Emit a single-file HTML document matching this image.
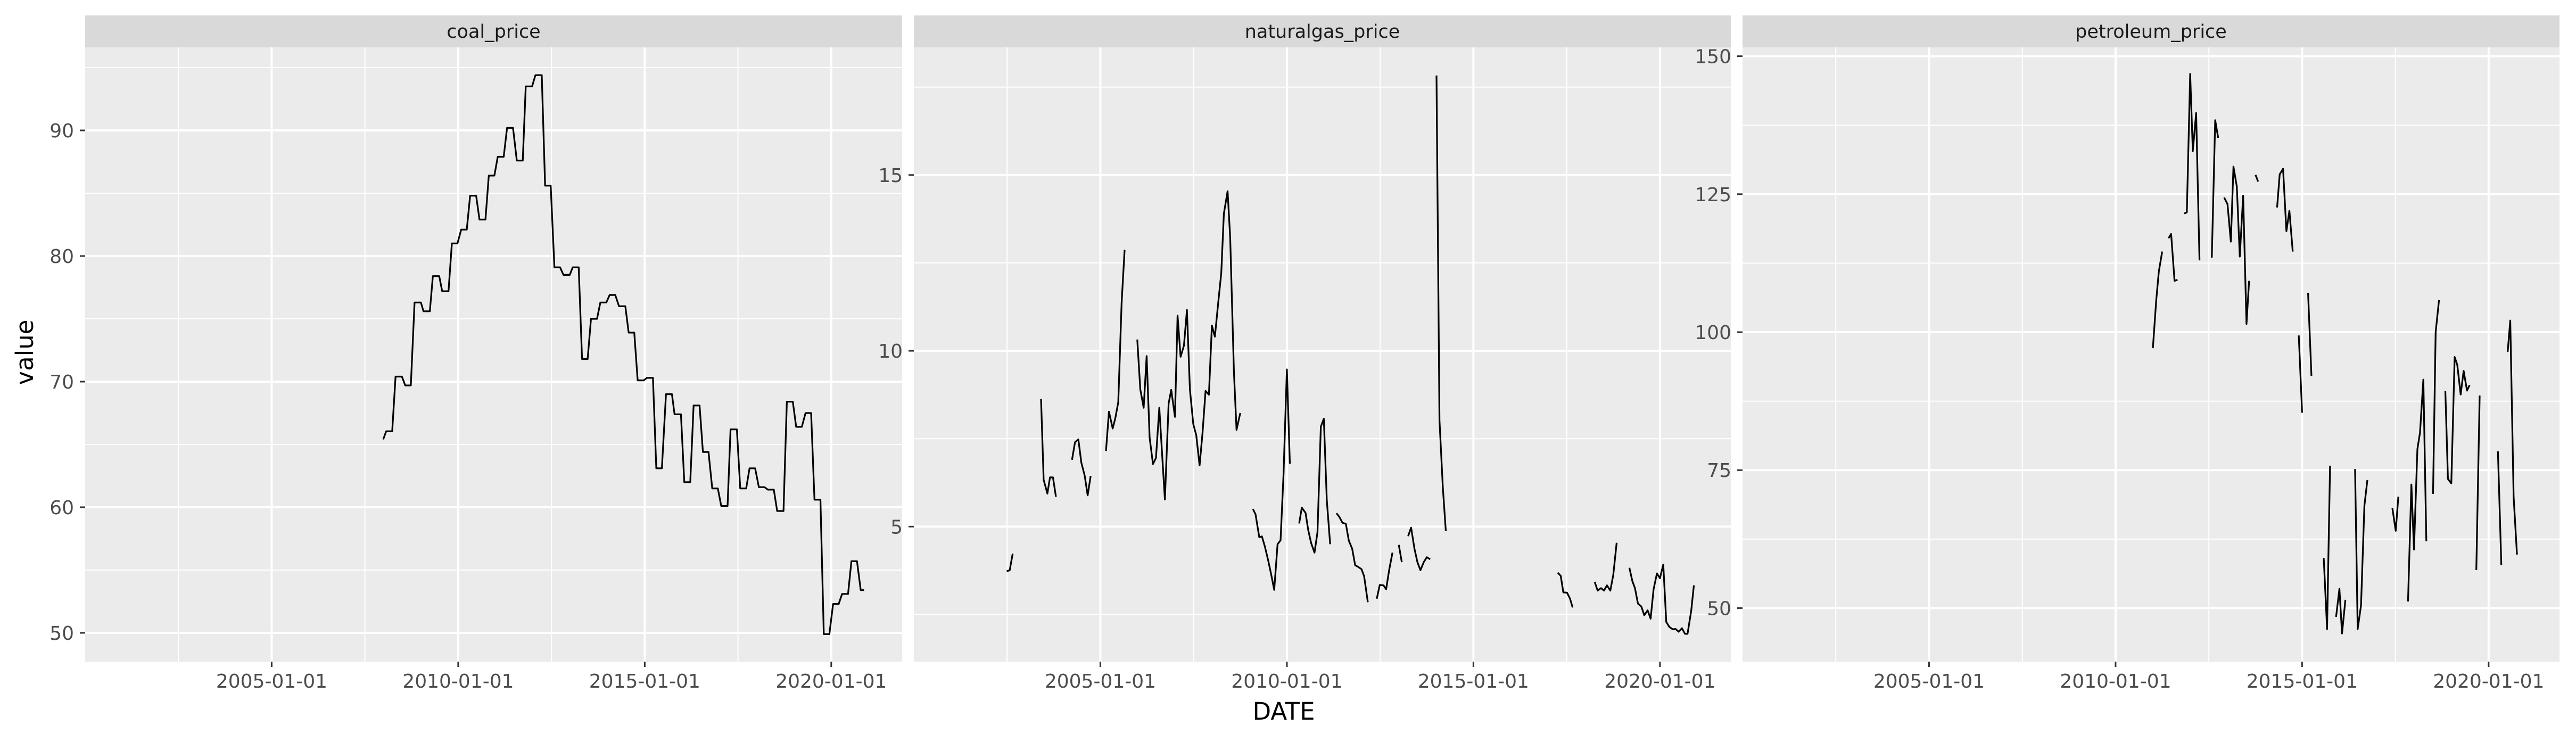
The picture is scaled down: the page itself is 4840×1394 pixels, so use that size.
<!DOCTYPE html>
<html><head><meta charset="utf-8"><style>
html,body{margin:0;padding:0;background:#fff;}
svg{display:block;font-family:"DejaVu Sans","Liberation Sans",sans-serif;}
</style></head><body>
<svg id="chart" width="4840" height="1394" viewBox="0 0 4840 1394" xmlns="http://www.w3.org/2000/svg">
<rect x="0" y="0" width="4840" height="1394" fill="#fff"/>
<text x="0" y="0" transform="translate(62,662) rotate(-90)" text-anchor="middle" font-size="45" fill="#000">value</text>
<text x="2412" y="1352" text-anchor="middle" font-size="45" fill="#000">DATE</text>
</svg>
<script>
// ---- data ----
const panelNames = ["coal_price", "naturalgas_price", "petroleum_price"];
const xTickLabels = ["2005-01-01", "2010-01-01", "2015-01-01", "2020-01-01"];
const xTickYears = [2005, 2010, 2015, 2020];
const xMinorYears = [2002.5, 2007.5, 2012.5, 2017.5];

const coalDates = [2007.99,2008.07,2008.23,2008.32,2008.49,2008.58,2008.73,2008.83,2009.00,2009.07,2009.24,2009.32,2009.49,2009.57,2009.74,2009.83,2009.98,2010.08,2010.23,2010.32,2010.48,2010.57,2010.73,2010.82,2010.97,2011.06,2011.22,2011.31,2011.47,2011.57,2011.73,2011.81,2011.98,2012.07,2012.24,2012.33,2012.48,2012.58,2012.73,2012.82,2012.99,2013.07,2013.23,2013.32,2013.47,2013.56,2013.72,2013.81,2013.97,2014.06,2014.21,2014.31,2014.48,2014.57,2014.72,2014.81,2014.97,2015.06,2015.22,2015.31,2015.46,2015.57,2015.73,2015.80,2015.97,2016.06,2016.22,2016.31,2016.47,2016.56,2016.71,2016.81,2016.96,2017.05,2017.22,2017.30,2017.47,2017.56,2017.72,2017.81,2017.96,2018.06,2018.21,2018.30,2018.46,2018.55,2018.72,2018.81,2018.97,2019.06,2019.21,2019.31,2019.46,2019.55,2019.71,2019.80,2019.95,2020.05,2020.20,2020.29,2020.45,2020.54,2020.69,2020.79,2020.88];
const coalValues = [65.4,66.05,66.05,70.4,70.4,69.7,69.7,76.3,76.3,75.6,75.6,78.4,78.4,77.2,77.2,81.0,81.0,82.1,82.1,84.8,84.8,82.9,82.9,86.4,86.4,87.9,87.9,90.2,90.2,87.6,87.6,93.5,93.5,94.4,94.4,85.6,85.6,79.1,79.1,78.5,78.5,79.1,79.1,71.8,71.8,75.0,75.0,76.3,76.3,76.9,76.9,76.0,76.0,73.9,73.9,70.1,70.1,70.3,70.3,63.1,63.1,69.0,69.0,67.4,67.4,62.0,62.0,68.1,68.1,64.4,64.4,61.5,61.5,60.1,60.1,66.2,66.2,61.5,61.5,63.1,63.1,61.6,61.6,61.4,61.4,59.7,59.7,68.4,68.4,66.4,66.4,67.5,67.5,60.6,60.6,49.9,49.9,52.3,52.3,53.1,53.1,55.7,55.7,53.4,53.4];

// null marks a gap in the series
const gasDates = [2002.49,2002.57,2002.65,null,2003.41,2003.48,2003.58,2003.65,2003.73,2003.81,null,2004.24,2004.32,2004.41,2004.49,2004.58,2004.66,2004.74,null,2005.15,2005.23,2005.33,2005.40,2005.48,2005.57,2005.65,null,2005.99,2006.07,2006.16,2006.24,2006.32,2006.41,2006.49,2006.58,2006.66,2006.73,2006.83,2006.90,2007.00,2007.07,2007.15,2007.24,2007.32,2007.40,2007.49,2007.57,2007.66,2007.74,2007.82,2007.91,2007.99,2008.07,2008.16,2008.24,2008.31,2008.41,2008.48,2008.58,2008.65,2008.75,null,2009.09,2009.16,2009.26,2009.33,2009.41,2009.50,2009.58,2009.66,2009.75,2009.83,2009.91,2010.00,2010.08,null,2010.33,2010.40,2010.50,2010.57,2010.65,2010.74,2010.82,2010.91,2010.99,2011.07,2011.16,null,2011.33,2011.41,2011.49,2011.58,2011.66,2011.75,2011.83,2011.90,2012.00,2012.07,2012.17,null,2012.41,2012.49,2012.59,2012.66,2012.74,2012.83,null,2013.00,2013.08,null,2013.25,2013.33,2013.42,2013.50,2013.58,2013.67,2013.75,2013.84,null,2014.01,2014.09,2014.18,2014.26,null,2017.26,2017.34,2017.41,2017.51,2017.59,2017.66,null,2018.25,2018.33,2018.42,2018.50,2018.58,2018.67,2018.75,2018.84,null,2019.18,2019.26,2019.33,2019.41,2019.50,2019.58,2019.67,2019.75,2019.83,2019.92,2020.00,2020.09,2020.17,2020.25,2020.34,2020.42,2020.50,2020.59,2020.67,2020.74,2020.84,2020.91];
const gasValues = [3.73,3.76,4.23,null,8.63,6.33,5.94,6.40,6.40,5.85,null,6.90,7.40,7.48,6.82,6.45,5.89,6.44,null,7.15,8.27,7.79,8.08,8.54,11.37,12.87,null,10.32,8.90,8.38,9.85,7.53,6.78,6.95,8.38,6.98,5.77,8.50,8.89,8.12,11.00,9.83,10.15,11.16,8.90,7.92,7.60,6.74,7.68,8.86,8.75,10.72,10.40,11.37,12.21,13.90,14.54,13.21,9.40,7.75,8.23,null,5.50,5.35,4.70,4.72,4.43,4.03,3.63,3.20,4.50,4.61,6.48,9.47,6.79,null,5.09,5.54,5.39,4.91,4.53,4.26,4.84,7.84,8.07,5.75,4.50,null,5.38,5.27,5.11,5.08,4.60,4.37,3.90,3.86,3.79,3.59,2.85,null,2.95,3.34,3.33,3.22,3.76,4.26,null,4.48,3.99,null,4.73,4.97,4.37,3.99,3.76,3.99,4.13,4.07,null,17.83,8.03,6.12,4.88,null,3.69,3.60,3.13,3.12,2.95,2.70,null,3.43,3.18,3.25,3.18,3.33,3.18,3.63,4.54,null,3.83,3.45,3.25,2.81,2.73,2.48,2.62,2.38,3.22,3.67,3.53,3.92,2.29,2.15,2.08,2.09,2.01,2.11,1.95,1.95,2.62,3.33];

const petDates = [2011.00,2011.09,2011.16,2011.25,null,2011.42,2011.49,2011.58,2011.66,null,2011.84,2011.91,2012.00,2012.07,2012.16,2012.25,null,2012.58,2012.67,2012.75,null,2012.91,2013.00,2013.09,2013.16,2013.25,2013.33,2013.42,2013.51,2013.58,null,2013.75,2013.82,null,2014.33,2014.40,2014.49,2014.58,2014.66,2014.75,null,2014.91,2015.00,null,2015.16,2015.25,null,2015.58,2015.67,2015.75,null,2015.91,2016.00,2016.07,2016.16,null,2016.42,2016.49,2016.58,2016.67,2016.75,null,2017.42,2017.51,2017.58,null,2017.84,2017.93,2018.00,2018.09,2018.16,2018.25,2018.33,null,2018.51,2018.58,2018.67,null,2018.84,2018.91,2019.00,2019.09,2019.16,2019.25,2019.33,2019.42,2019.49,null,2019.67,2019.76,null,2020.25,2020.34,null,2020.51,2020.58,2020.67,2020.76];
const petValues = [97.1,105.8,111.0,114.6,null,117.0,117.8,109.3,109.5,null,121.5,121.7,146.8,132.8,139.7,113.0,null,113.5,138.4,135.2,null,124.4,123.2,116.4,130.0,126.4,113.7,124.7,101.5,109.3,null,128.5,127.3,null,122.6,128.6,129.6,118.3,122.0,114.6,null,99.4,85.4,null,107.1,92.1,null,59.1,46.2,75.8,null,48.4,53.5,45.4,51.5,null,75.2,46.2,50.5,68.5,73.2,null,68.1,64.0,70.2,null,51.2,72.4,60.6,78.8,81.8,91.4,62.1,null,70.7,100.0,105.8,null,89.3,73.4,72.6,95.5,94.1,88.7,93.0,89.4,90.4,null,56.9,88.5,null,78.4,57.8,null,96.4,102.1,70.2,59.7];

const coalYTicks = [50, 60, 70, 80, 90];
const coalYMinor = [55, 65, 75, 85, 95];
const gasYTicks = [5, 10, 15];
const gasYMinor = [2.5, 7.5, 12.5, 17.5];
const petYTicks = [50, 75, 100, 125, 150];
const petYMinor = [62.5, 87.5, 112.5, 137.5];

// ---- layout ----
const NS = "http://www.w3.org/2000/svg";
const svg = document.getElementById("chart");
const plotTop = 89, plotBottom = 1243, stripTop = 29;
const panelLefts = [160, 1717, 3274];
const panelW = 1535;
const xMin = 2000.0, xMax = 2021.9;
function xScale(p, yr) { return panelLefts[p] + (yr - xMin) / (xMax - xMin) * panelW; }
const yDomains = [[47.71, 96.61], [1.16, 18.63], [40.3, 151.6]];
function yScale(p, v) { const d = yDomains[p]; return plotBottom - (v - d[0]) / (d[1] - d[0]) * (plotBottom - plotTop); }

function mk(tag, attrs, parent) {
  const e = document.createElementNS(NS, tag);
  for (const k in attrs) e.setAttribute(k, attrs[k]);
  (parent || svg).appendChild(e);
  return e;
}

const seriesDates = [coalDates, gasDates, petDates];
const seriesValues = [coalValues, gasValues, petValues];
const yTicksAll = [coalYTicks, gasYTicks, petYTicks];
const yMinorAll = [coalYMinor, gasYMinor, petYMinor];
const panelKeys = ["coal", "gas", "petroleum"];

for (let p = 0; p < 3; p++) {
  const L = panelLefts[p], R = L + panelW;
  const g = mk("g", {});
  
  

  const bg = mk("rect", {x: L, y: plotTop, width: panelW, height: plotBottom - plotTop, fill: "#ebebeb"}, g);
  
  

  const strip = mk("rect", {x: L, y: stripTop, width: panelW, height: plotTop - stripTop, fill: "#d9d9d9"}, g);
  
  
  const st = mk("text", {x: L + panelW / 2, y: 71, "text-anchor": "middle", "font-size": 35, fill: "#1a1a1a"}, g);
  st.textContent = panelNames[p];
  
  

  for (const m of yMinorAll[p]) {
    const y = yScale(p, m);
    if (y < plotTop || y > plotBottom) continue;
    const ln = mk("line", {x1: L, x2: R, y1: y, y2: y, stroke: "#fff", "stroke-width": 2}, g);
    
    
  }
  for (const m of xMinorYears) {
    const x = xScale(p, m);
    const ln = mk("line", {x1: x, x2: x, y1: plotTop, y2: plotBottom, stroke: "#fff", "stroke-width": 2}, g);
    
    
  }
  for (const t of yTicksAll[p]) {
    const y = yScale(p, t);
    const ln = mk("line", {x1: L, x2: R, y1: y, y2: y, stroke: "#fff", "stroke-width": 4}, g);
    
    
    const tk = mk("line", {x1: L - 10, x2: L, y1: y, y2: y, stroke: "#333", "stroke-width": 3}, g);
    
    
    const tl = mk("text", {x: L - 21, y: y + 13, "text-anchor": "end", "font-size": 36, fill: "#4d4d4d"}, g);
    tl.textContent = String(t);
    
    
  }
  for (let i = 0; i < xTickYears.length; i++) {
    const x = xScale(p, xTickYears[i]);
    const ln = mk("line", {x1: x, x2: x, y1: plotTop, y2: plotBottom, stroke: "#fff", "stroke-width": 4}, g);
    
    
    const tk = mk("line", {x1: x, x2: x, y1: plotBottom, y2: plotBottom + 10, stroke: "#333", "stroke-width": 3}, g);
    
    
    const tl = mk("text", {x: x, y: 1292, "text-anchor": "middle", "font-size": 36, fill: "#4d4d4d"}, g);
    tl.textContent = xTickLabels[i];
    
    
  }

  const ds = seriesDates[p], vs = seriesValues[p];
  let d = "", pen = false;
  for (let i = 0; i < ds.length; i++) {
    if (ds[i] === null || vs[i] === null) { pen = false; continue; }
    const x = xScale(p, ds[i]).toFixed(1), y = yScale(p, vs[i]).toFixed(1);
    d += (pen ? "L" : "M") + x + " " + y + " ";
    pen = true;
  }
  const path = mk("path", {d: d, fill: "none", stroke: "#000", "stroke-width": 3.2, "stroke-linejoin": "round"}, g);
  
  
}
</script>
</body></html>
